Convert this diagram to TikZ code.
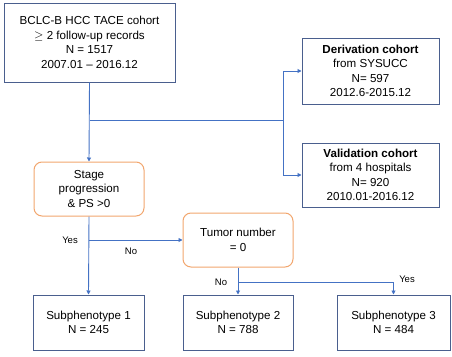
\documentclass[tikz,border=0pt]{standalone}
\usepackage{fontspec}
\setmainfont{Liberation Sans}
\definecolor{frame}{HTML}{4A5F8E}
\definecolor{link}{HTML}{4472C4}
\definecolor{cond}{HTML}{F2A66E}
\usetikzlibrary{arrows.meta,positioning}
\tikzset{
  >={Triangle[length=4pt,width=4pt]},
  box/.style={draw=frame,line width=1pt,inner sep=2pt,font=\fontsize{11.6}{14.5}\selectfont,align=center,fill=white},
  qbox/.style={box,draw=cond,rounded corners=8pt},
  lab/.style={font=\fontsize{9.5}{11}\selectfont},
  arr/.style={->,draw=link,line width=0.9pt},
  lnk/.style={draw=link,line width=0.9pt},
}
\begin{document}
\begin{tikzpicture}[x=1pt,y=-1pt]
\useasboundingbox (0,0) rectangle (452,356);
% cohorts
\node[box,minimum width=171pt,minimum height=79pt] (cohort) at (89.5,42.5) {BCLC-B HCC TACE cohort\\$\geq$ 2 follow-up records\\N = 1517\\2007.01 -- 2016.12};
\node[box,minimum width=137pt,minimum height=66pt] (deriv) at (370.5,71) {\textbf{Derivation cohort}\\from SYSUCC\\N= 597\\2012.6-2015.12};
\node[box,minimum width=137pt,minimum height=64pt] (valid) at (370.5,175) {\textbf{Validation cohort}\\from 4 hospitals\\N= 920\\2010.01-2016.12};
% decisions
\node[qbox,minimum width=110pt,minimum height=54pt] (stage) at (89,189) {Stage\\progression\\\& PS >0};
\node[qbox,minimum width=110pt,minimum height=54pt] (tumor) at (238,240) {Tumor number\\= 0};
% subphenotypes
\node[box,minimum width=111pt,minimum height=55pt] (sub1) at (88.5,322.5) {Subphenotype 1\\N = 245};
\node[box,minimum width=110pt,minimum height=55pt] (sub2) at (238,322.5) {Subphenotype 2\\N = 788};
\node[box,minimum width=113pt,minimum height=55pt] (sub3) at (393.5,322.5) {Subphenotype 3\\N = 484};
\coordinate (split) at (283,120);
\coordinate (fork) at (238,282);
\draw[arr] (cohort.south) -- (stage.north);
\draw[lnk] (cohort.south |- split) -- (split);
\draw[arr] (split) |- (deriv.west);
\draw[arr] (split) |- (valid.west);
\draw[arr] (stage.south) -- (sub1.north);
\draw[arr] (stage.south |- tumor.west) -- (tumor.west);
\draw[arr] (tumor.south) -- (sub2.north);
\draw[arr] (fork) -| (sub3.north);
\node[lab] (yes1) at (70,240) {Yes};
\node[lab] (no1) at (131,251) {No};
\node[lab] (no2) at (221,282) {No};
\node[lab] (yes2) at (407,279) {Yes};
\end{tikzpicture}
\end{document}
